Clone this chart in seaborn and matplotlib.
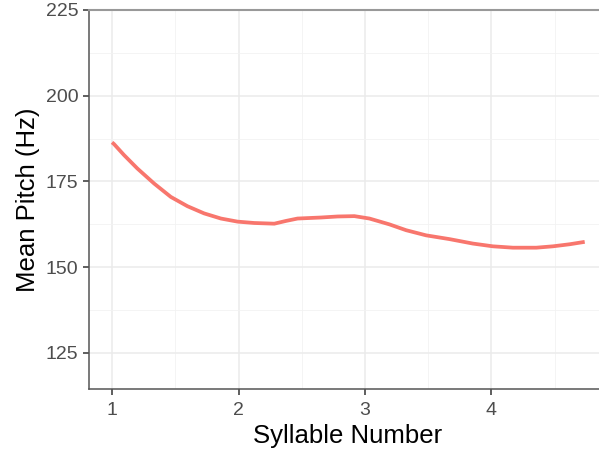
import matplotlib
matplotlib.use("Agg")
import matplotlib.pyplot as plt
import seaborn as sns
import pandas as pd
from matplotlib.ticker import FixedLocator

syllable = [1.0, 1.016, 1.095, 1.20, 1.333, 1.465, 1.596, 1.728, 1.861, 1.992,
            2.124, 2.283, 2.375, 2.467, 2.652, 2.784, 2.916, 3.035, 3.193,
            3.325, 3.483, 3.668, 3.853, 4.011, 4.17, 4.354, 4.486, 4.618, 4.737]
pitch = [186.4, 185.9, 182.7, 178.8, 174.4, 170.5, 167.8, 165.7, 164.2, 163.3,
         162.9, 162.7, 163.5, 164.2, 164.5, 164.8, 164.9, 164.2, 162.5,
         160.8, 159.3, 158.2, 156.9, 156.1, 155.7, 155.7, 156.1, 156.7, 157.4]
x_ticks = [1, 2, 3, 4]
y_ticks = [125, 150, 175, 200, 225]

df = pd.DataFrame({"Syllable Number": syllable, "Mean Pitch (Hz)": pitch})

sns.set_theme(style="white")
plt.rcParams['font.family'] = ['Liberation Sans', 'DejaVu Sans']

fig = plt.figure(figsize=(5.99, 4.54), dpi=100)
W, H = 599, 454
ax = fig.add_axes([89 / W, (H - 389) / H, (W - 89) / W, (389 - 10) / H])

sns.lineplot(data=df, x="Syllable Number", y="Mean Pitch (Hz)", ax=ax,
             color="#F8766D", linewidth=2.7, solid_capstyle="butt",
             solid_joinstyle="round", zorder=3)

ax.set_xlim(0.818, 4.85)
ax.set_ylim(114.5, 225.0)
ax.xaxis.set_major_locator(FixedLocator(x_ticks))
ax.yaxis.set_major_locator(FixedLocator(y_ticks))
ax.xaxis.set_minor_locator(FixedLocator([1.5, 2.5, 3.5, 4.5]))
ax.yaxis.set_minor_locator(FixedLocator([137.5, 162.5, 187.5, 212.5]))
ax.grid(which="major", color="#EBEBEB", linewidth=1.1, zorder=0)
ax.grid(which="minor", color="#F2F2F2", linewidth=0.6, zorder=0)
ax.set_axisbelow(True)

for s in ["left", "bottom"]:
    ax.spines[s].set_color("#555555")
    ax.spines[s].set_linewidth(1.1)
ax.spines["top"].set_color("#999999")
ax.spines["top"].set_linewidth(1.5)
ax.spines["right"].set_visible(False)

ax.tick_params(axis="both", which="major", length=4, width=1.1, color="#333333",
               labelsize=14, labelcolor="#4D4D4D", left=True, bottom=True)
ax.tick_params(axis="x", which="major", pad=5.5)
ax.tick_params(axis="y", which="major", pad=3.5)
ax.tick_params(axis="both", which="minor", length=0)
ax.set_xlabel("Syllable Number", fontsize=18.5, color="black")
ax.set_ylabel("Mean Pitch (Hz)", fontsize=18.5, color="black", labelpad=4)
ax.xaxis.set_label_coords(0.507, -0.093)

fig.savefig("out.png", dpi=100, facecolor="white")
